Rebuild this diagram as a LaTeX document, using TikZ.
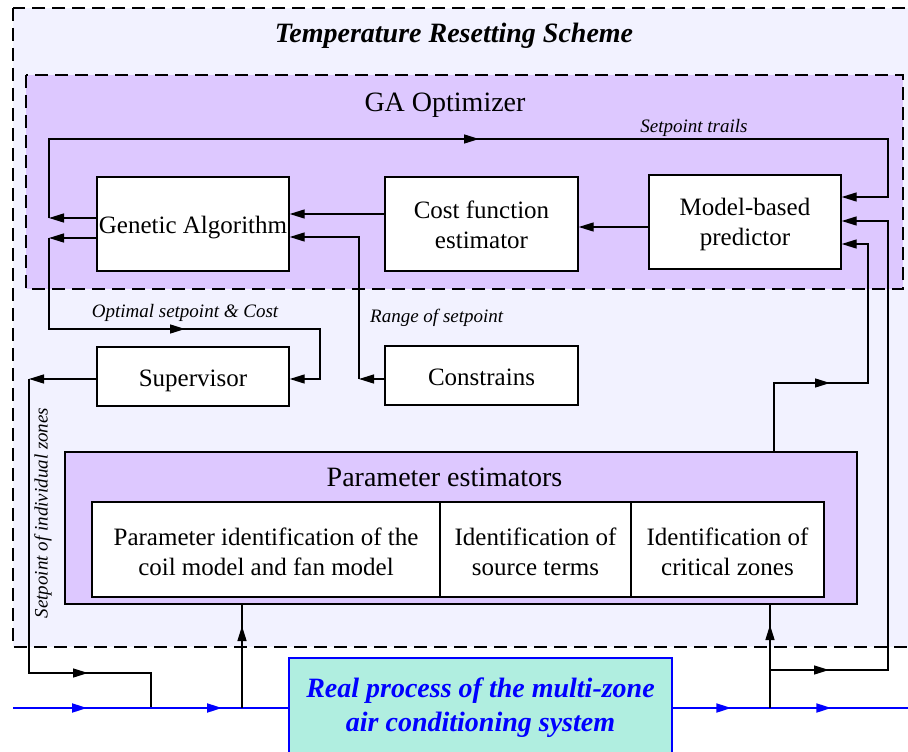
\documentclass[tikz,border=0pt]{standalone}
\usepackage{fontspec}
\setmainfont{Liberation Serif}
\usetikzlibrary{arrows.meta,decorations.markings}
\definecolor{schemebg}{RGB}{242,242,255}
\definecolor{optbg}{RGB}{221,200,255}
\definecolor{plantbg}{RGB}{176,238,224}
\newcommand{\topstrut}[1]{\rule{0pt}{#1}}
\tikzset{
  hd/.tip={Triangle[length=15pt,width=9pt]},
  conn/.style={line width=1.4pt},
  flow/.style={line width=2pt,color=blue},
  tipat/.style={postaction={decorate,decoration={markings,mark=at position #1 with {\arrow{hd}}}}},
  dashframe/.style={draw,line width=2.2pt,dash pattern=on 13pt off 7pt},
  block/.style={draw,line width=1.4pt,fill=white,inner sep=0pt,align=center,
    font=\fontsize{25}{30}\selectfont},
  oneline/.style={text height=25pt,text depth=#1},
  heading/.style={inner sep=0pt,font=\fontsize{28}{32}\selectfont},
  lbl/.style={inner sep=0pt,font=\fontsize{19}{22}\selectfont\itshape},
}
\begin{document}
\begin{tikzpicture}[x=1pt,y=-1pt]
\useasboundingbox (0,0) rectangle (908,752);
\clip (0,0) rectangle (908,752);

% temperature resetting scheme frame
\draw[dashframe,fill=schemebg] (13,8) rectangle (930,647);
\node[heading,font=\fontsize{28}{32}\selectfont\bfseries\itshape] (title) at (454,36) {Temperature Resetting Scheme};

% GA optimizer frame
\draw[dashframe,fill=optbg] (26,75) rectangle (903,289);
\node[heading] (gaopt) at (445,105) {GA Optimizer};

% blocks
\node[block,oneline=7pt,minimum width=192pt,minimum height=94pt] (ga) at (193,224) {Genetic Algorithm};
\node[block,minimum width=193pt,minimum height=94pt] (cost) at (481.5,224) {\topstrut{19pt}Cost function\\estimator};
\node[block,minimum width=192pt,minimum height=94pt] (mbp) at (745,222) {\topstrut{23pt}Model-based\\predictor};
\node[block,oneline=5pt,minimum width=192pt,minimum height=59pt] (sup) at (193,376.5) {Supervisor};
\node[block,oneline=5pt,minimum width=193pt,minimum height=59pt] (cons) at (481.5,375.5) {Constrains};

% parameter estimators
\node[draw,line width=2pt,fill=optbg,minimum width=792pt,minimum height=152pt,inner sep=0pt] (pe) at (461,528) {};
\node[heading] (petitle) at (444.5,477) {Parameter estimators};
\node[block,minimum width=348pt,minimum height=95pt] (pi1) at (266,549.5) {\topstrut{22pt}Parameter identification of the\\coil model and fan model};
\node[block,minimum width=191pt,minimum height=95pt] (pi2) at (535.5,549.5) {\topstrut{22pt}Identification of\\source terms};
\node[block,minimum width=193pt,minimum height=95pt] (pi3) at (727.5,549.5) {\topstrut{22pt}Identification of\\critical zones};

% plant
\node[draw=blue,line width=2.5pt,fill=plantbg,minimum width=383pt,minimum height=100pt,inner sep=0pt,
  align=center,text=blue,font=\fontsize{28}{34}\selectfont\bfseries\itshape] (real) at (480.5,708)
  {Real process of the multi-zone\\air conditioning system};

% cost -> GA, predictor -> cost
\coordinate (cgA) at ([yshift=10pt]cost.west);
\draw[conn,-{hd}] (cgA) -- (cgA -| ga.east);
\coordinate (mcA) at ([yshift=-5pt]mbp.west);
\draw[conn,-{hd}] (mcA) -- (mcA -| cost.east);

% setpoint trails loop
\coordinate (gaT) at ([yshift=6pt]ga.west);
\coordinate (loopL) at (49,218);
\coordinate (mbT) at ([yshift=25pt]mbp.east);
\draw[conn,-{hd}] (gaT) -- (loopL);
\draw[conn,tipat=509pt,-{hd}] (loopL) -- (49,139) -- (888,139) |- (mbT);
\node[lbl] (trailslbl) at (694,128) {Setpoint trails};

% optimal setpoint to supervisor
\coordinate (gaO) at ([yshift=-14pt]ga.west);
\coordinate (optL) at (49,238);
\coordinate (supIn) at ([yshift=-2.5pt]sup.east);
\draw[conn,-{hd}] (gaO) -- (optL);
\draw[conn,tipat=227pt,-{hd}] (optL) -- (49,329) -- (320,329) |- (supIn);
\node[lbl] (optlbl) at (185,313) {Optimal setpoint \& Cost};

% range of setpoint
\coordinate (consOut) at ([yshift=-3.5pt]cons.west);
\coordinate (rngB) at (359,379);
\coordinate (gaR) at ([yshift=-13pt]ga.east);
\draw[conn,-{hd}] (consOut) -- (rngB);
\draw[conn,-{hd}] (rngB) |- (gaR);
\node[lbl,anchor=west] (rnglbl) at (370,318) {Range of setpoint};

% supervisor output to the zones
\coordinate (supOut) at ([yshift=-2.5pt]sup.west);
\coordinate (zoneL) at (29,379);
\draw[conn,-{hd}] (supOut) -- (zoneL);
\draw[conn,tipat=353pt] (zoneL) -- (29,673) -- (151,673) -- (151,708);
\node[lbl,rotate=90] (zonelbl) at (43,513) {Setpoint of individual zones};

% plant input
\coordinate (inL) at (13,708);
\draw[flow,tipat=74pt,tipat=209pt] (inL) -- (real.west);
\coordinate (pA) at (242,708);
\draw[conn,tipat=82pt] (pA) -- (pA |- pe.south);

% plant output
\coordinate (outR) at (912,708);
\draw[flow,tipat=58pt,tipat=158pt] (real.east) -- (outR);
\coordinate (oJ) at (770,708);
\draw[conn,tipat=83pt] (oJ) -- (oJ |- pe.south);
\coordinate (oB) at (770,670);
\coordinate (mbM) at ([yshift=1pt]mbp.east);
\draw[conn,tipat=59pt,-{hd}] (oB) -- (888,670) |- (mbM);

% estimators to predictor
\coordinate (peT) at ([xshift=313pt]pe.north);
\coordinate (mbB) at ([yshift=-22pt]mbp.east);
\draw[conn,tipat=124pt,-{hd}] (peT) -- (774,383) -- (868,383) |- (mbB);
\end{tikzpicture}
\end{document}
